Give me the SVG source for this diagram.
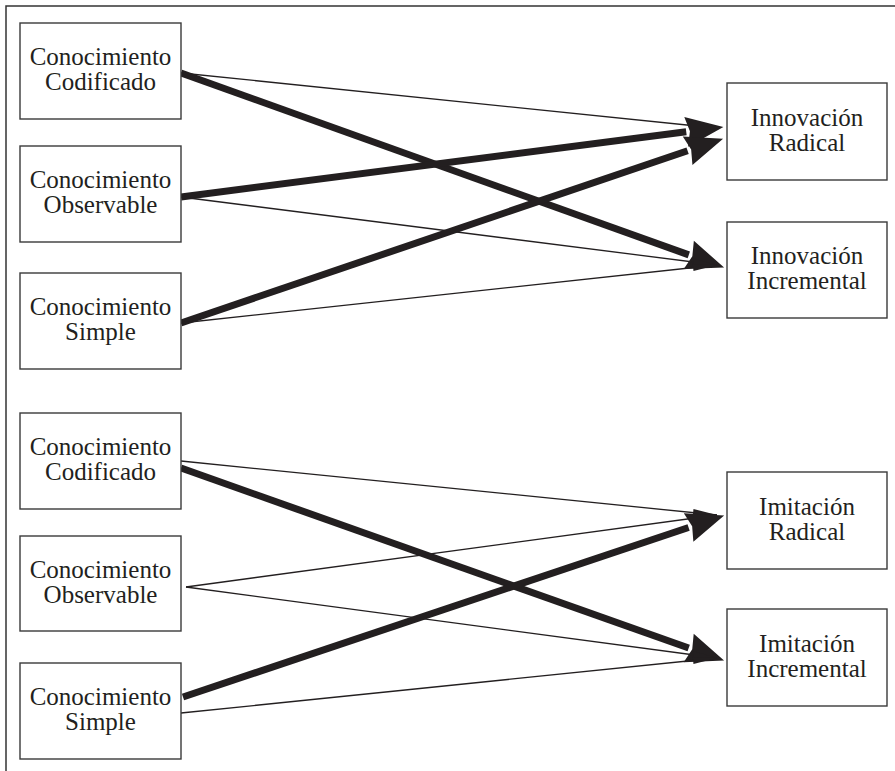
<svg xmlns="http://www.w3.org/2000/svg" width="895" height="771" viewBox="0 0 895 771">
<style>
.box{fill:#fff;stroke:#3a3a3a;stroke-width:1.4}
.t{font-family:"Liberation Serif","Times New Roman",serif;font-size:25px;fill:#231f20;text-anchor:middle}
.thin{stroke:#231f20;stroke-width:1.3;fill:none;marker-end:url(#hs)}
.thick{stroke:#231f20;stroke-width:7;fill:none;marker-end:url(#hb)}
.frame{stroke:#333;stroke-width:1.5;fill:none}
</style>
<defs>
<marker id="hb" markerUnits="userSpaceOnUse" markerWidth="40" markerHeight="40" viewBox="0 -15 32 30" refX="0" refY="0" orient="auto" overflow="visible">
<path d="M0,-12 L30,0 L0,12 L3,0 z" fill="#231f20"/>
</marker>
<marker id="hs" markerUnits="userSpaceOnUse" markerWidth="30" markerHeight="10" viewBox="-26 -5 26 10" refX="0" refY="0" orient="auto" overflow="visible">
<path d="M-24,-3.5 L0,0 L-24,3.5 z" fill="#231f20"/>
</marker>
</defs>
<path class="frame" d="M6,771 V6 H895"/>
<g id="connectors">
<line class="thin" x1="181" y1="73" x2="716" y2="128"/>
<line class="thick" x1="181" y1="73" x2="688.8" y2="254.9"/>
<line class="thick" x1="181" y1="197" x2="686.2" y2="131.8"/>
<line class="thin" x1="181" y1="197" x2="717" y2="265"/>
<line class="thick" x1="181" y1="323" x2="687.6" y2="150.7"/>
<line class="thin" x1="181" y1="323" x2="717" y2="265"/>
<line class="thin" x1="181" y1="461" x2="717" y2="515"/>
<line class="thick" x1="181" y1="468" x2="688.7" y2="648"/>
<line class="thin" x1="186" y1="587" x2="717" y2="515"/>
<line class="thin" x1="186" y1="587" x2="717" y2="658"/>
<line class="thick" x1="183" y1="697" x2="688.6" y2="527.5"/>
<line class="thin" x1="181" y1="713" x2="717" y2="658"/>
</g>
<g id="n1"><rect class="box" x="20" y="23" width="161" height="96"/><text class="t" x="100.5" y="65">Conocimiento</text><text class="t" x="100.5" y="90">Codificado</text></g>
<g id="n2"><rect class="box" x="20" y="146" width="161" height="96"/><text class="t" x="100.5" y="188">Conocimiento</text><text class="t" x="100.5" y="213">Observable</text></g>
<g id="n3"><rect class="box" x="20" y="273" width="161" height="96"/><text class="t" x="100.5" y="315">Conocimiento</text><text class="t" x="100.5" y="340">Simple</text></g>
<g id="n4"><rect class="box" x="20" y="413" width="161" height="96"/><text class="t" x="100.5" y="455">Conocimiento</text><text class="t" x="100.5" y="480">Codificado</text></g>
<g id="n5"><rect class="box" x="20" y="536" width="161" height="95"/><text class="t" x="100.5" y="578">Conocimiento</text><text class="t" x="100.5" y="603">Observable</text></g>
<g id="n6"><rect class="box" x="20" y="663" width="161" height="96"/><text class="t" x="100.5" y="705">Conocimiento</text><text class="t" x="100.5" y="730">Simple</text></g>
<g id="r1"><rect class="box" x="727" y="83" width="160" height="97"/><text class="t" x="807" y="126">Innovación</text><text class="t" x="807" y="151">Radical</text></g>
<g id="r2"><rect class="box" x="727" y="222" width="160" height="96"/><text class="t" x="807" y="264">Innovación</text><text class="t" x="807" y="289">Incremental</text></g>
<g id="r3"><rect class="box" x="727" y="472" width="160" height="97"/><text class="t" x="807" y="515">Imitación</text><text class="t" x="807" y="540">Radical</text></g>
<g id="r4"><rect class="box" x="727" y="609" width="160" height="97"/><text class="t" x="807" y="652">Imitación</text><text class="t" x="807" y="677">Incremental</text></g>
</svg>
